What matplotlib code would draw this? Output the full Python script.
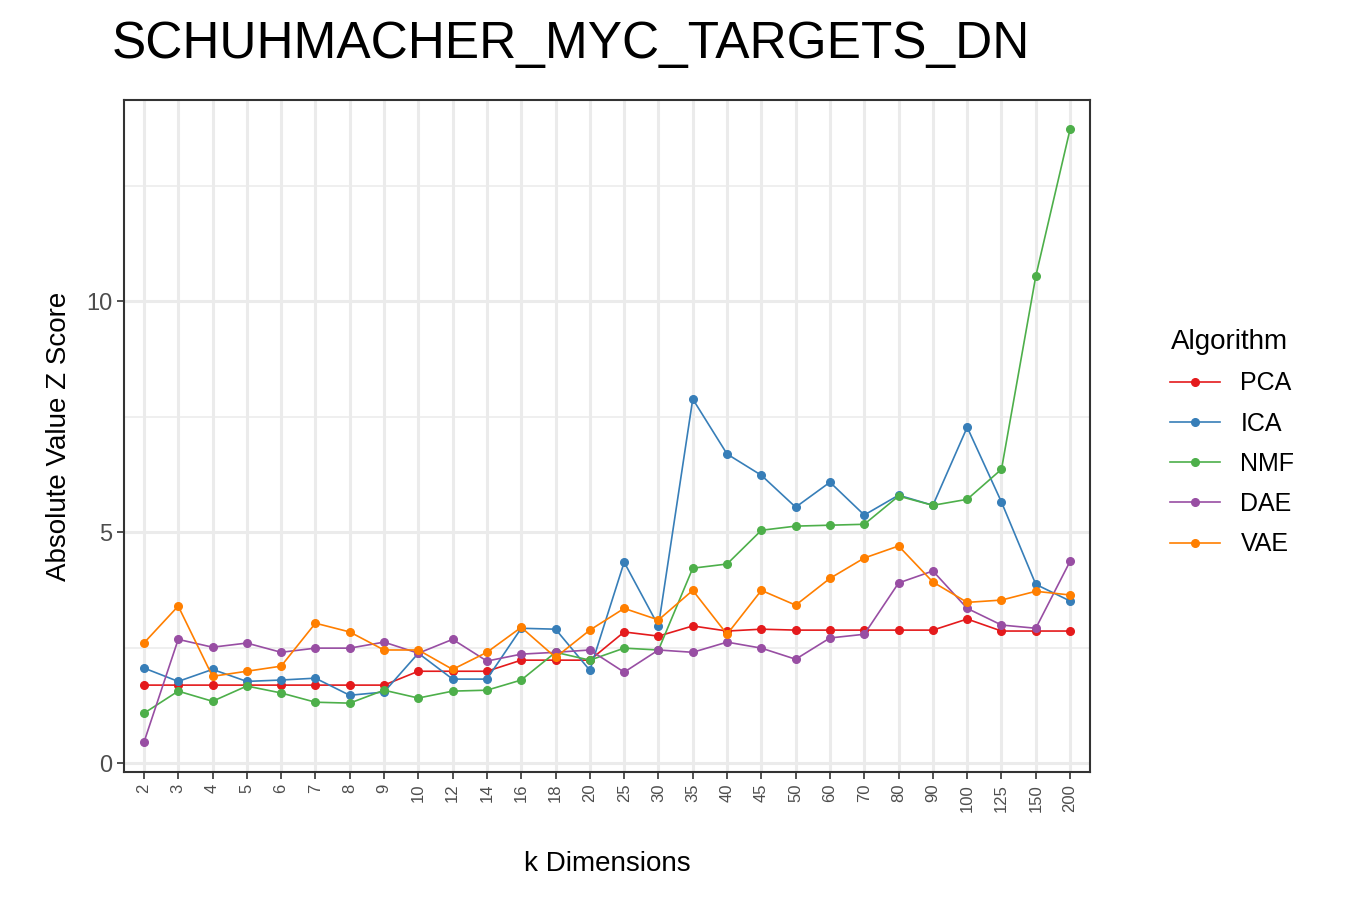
import numpy as np
import matplotlib.pyplot as plt

plt.rcParams["font.family"] = ["Liberation Sans", "DejaVu Sans"]

k_dims = ["2", "3", "4", "5", "6", "7", "8", "9", "10", "12", "14", "16", "18", "20",
          "25", "30", "35", "40", "45", "50", "60", "70", "80", "90", "100", "125", "150", "200"]

pca = [1.69, 1.69, 1.69, 1.69, 1.69, 1.69, 1.69, 1.69, 1.99, 1.99, 1.99, 2.23, 2.23, 2.23,
       2.84, 2.75, 2.97, 2.86, 2.90, 2.88, 2.88, 2.88, 2.88, 2.88, 3.12, 2.86, 2.86, 2.86]
ica = [2.06, 1.77, 2.03, 1.77, 1.80, 1.84, 1.47, 1.54, 2.38, 1.82, 1.82, 2.92, 2.90, 2.01,
       4.35, 2.97, 7.88, 6.69, 6.23, 5.54, 6.08, 5.37, 5.80, 5.58, 7.27, 5.65, 3.87, 3.51]
nmf = [1.08, 1.56, 1.34, 1.67, 1.52, 1.32, 1.30, 1.58, 1.41, 1.56, 1.58, 1.80, 2.40, 2.23,
       2.49, 2.45, 4.22, 4.31, 5.04, 5.13, 5.15, 5.17, 5.78, 5.58, 5.71, 6.36, 10.54, 13.72]
dae = [0.45, 2.68, 2.51, 2.60, 2.40, 2.49, 2.49, 2.62, 2.38, 2.68, 2.21, 2.36, 2.40, 2.45,
       1.97, 2.45, 2.40, 2.62, 2.49, 2.25, 2.71, 2.79, 3.90, 4.16, 3.35, 2.99, 2.92, 4.37]
vae = [2.60, 3.40, 1.88, 1.99, 2.10, 3.03, 2.84, 2.45, 2.45, 2.03, 2.40, 2.94, 2.29, 2.88,
       3.35, 3.10, 3.74, 2.79, 3.74, 3.42, 4.00, 4.44, 4.70, 3.92, 3.48, 3.53, 3.72, 3.64]

series = [("PCA", pca, "#e41a1c"), ("ICA", ica, "#377eb8"), ("NMF", nmf, "#4daf4a"),
          ("DAE", dae, "#984ea3"), ("VAE", vae, "#ff7f00")]

fig = plt.figure(figsize=(13.5, 9), dpi=100)
ax = fig.add_axes([124 / 1350, 1 - 772 / 900, 966 / 1350, 672 / 900])
x = np.arange(len(k_dims))

for name, vals, col in series:
    ax.plot(x, vals, color=col, lw=1.2, marker="o", ms=5.5, label=name, zorder=3)

ax.set_xlim(-0.58, len(k_dims) - 0.42)
ax.set_ylim(-0.19, 14.35)
ax.set_xticks(x)
ax.set_xticklabels(k_dims, rotation=90, fontsize=12, color="#4d4d4d")
ax.set_yticks([0, 5, 10])
ax.set_yticklabels(["0", "5", "10"], fontsize=17, color="#4d4d4d")
ax.set_yticks([2.5, 7.5, 12.5], minor=True)
ax.grid(True, which="major", color="#ebebeb", lw=2.2, zorder=0)
ax.grid(True, which="minor", axis="y", color="#ebebeb", lw=1.1, zorder=0)
ax.set_axisbelow(True)
for s in ax.spines.values():
    s.set_color("#333333")
    s.set_linewidth(1.5)
ax.tick_params(which="major", length=5, width=1.2, color="#333333")
ax.tick_params(which="minor", length=0)

ax.set_xlabel("k Dimensions", fontsize=20, labelpad=28)
ax.set_ylabel("Absolute Value Z Score", fontsize=20, labelpad=10)
fig.text(112 / 1350, 1 - 45 / 900, "SCHUHMACHER_MYC_TARGETS_DN", fontsize=37, va="center")

leg = ax.legend(loc="center left", bbox_to_anchor=(1.06, 0.49), frameon=False,
                title="Algorithm", fontsize=18, title_fontsize=20, handlelength=2.0,
                labelspacing=0.65)
leg._legend_box.align = "left"

fig.savefig("out.png", dpi=100)
